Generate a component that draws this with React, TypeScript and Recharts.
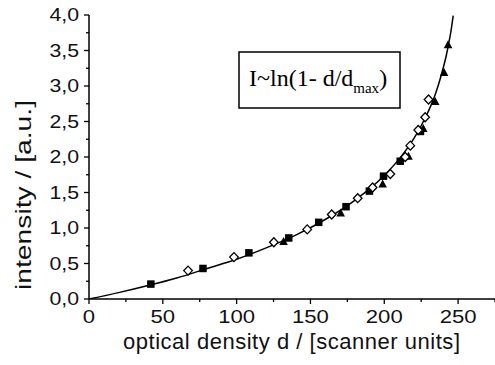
import React from 'react';
import { ComposedChart, Line, Scatter, XAxis, YAxis } from 'recharts';

// fitted curve
const curveD = [0, 20, 40, 60, 80, 100, 120, 140, 160, 180, 200, 210, 220, 225, 230, 235, 238, 240, 242, 243, 244, 245, 246, 246.7];
const curveI = [0, 0.09, 0.19, 0.3, 0.43, 0.56, 0.72, 0.9, 1.12, 1.39, 1.74, 1.97, 2.26, 2.44, 2.65, 2.91, 3.11, 3.26, 3.43, 3.53, 3.64, 3.75, 3.89, 3.99];

// filled squares
const squareD = [41.9, 77.2, 108.3, 135.3, 155.6, 174.1, 189.9, 199.5, 210.8, 224.5];
const squareI = [0.21, 0.43, 0.65, 0.86, 1.08, 1.3, 1.52, 1.73, 1.94, 2.36];

// open diamonds
const diamondD = [67.1, 98.2, 125.2, 147.8, 164.4, 182.0, 192.1, 204.1, 214.2, 217.6, 223.0, 227.7, 230.0];
const diamondI = [0.4, 0.59, 0.8, 0.98, 1.19, 1.42, 1.57, 1.76, 2.0, 2.16, 2.38, 2.56, 2.81];

// filled triangles
const triangleD = [131.8, 170.5, 198.9, 216.4, 226.4, 234.5, 240.5, 243.2];
const triangleI = [0.81, 1.21, 1.62, 2.01, 2.4, 2.78, 3.19, 3.58];

const xTicks = [0, 25, 50, 75, 100, 125, 150, 175, 200, 225, 250, 275];
const yTicks = [0, 0.25, 0.5, 0.75, 1, 1.25, 1.5, 1.75, 2, 2.25, 2.5, 2.75, 3, 3.25, 3.5, 3.75, 4];

const toPts = (d: number[], v: number[]) => d.map((x, k) => ({ d: x, i: v[k] }));
const curve = toPts(curveD, curveI);
const squares = toPts(squareD, squareI);
const diamonds = toPts(diamondD, diamondI);
const triangles = toPts(triangleD, triangleI);

const SANS = '"Liberation Sans", Arial, Helvetica, sans-serif';
const SERIF = '"Liberation Serif", "Times New Roman", serif';

const charW = (s: string) => s.split('').reduce((a, c) => a + (c === ',' ? 5 : 12.3), 0);

function XTick(props: any) {
  const { x, y, payload } = props;
  const v = payload.value as number;
  const major = v % 50 === 0;
  const label = String(v);
  return (
    <g>
      <line x1={x} x2={x} y1={y} y2={y + (major ? 5 : 3)} stroke="#000" strokeWidth={1.3} />
      {major && (
        <text x={x} y={y + 24} textAnchor="middle" fontFamily={SANS} fontSize={18} fill="#111"
          textLength={charW(label)} lengthAdjust="spacingAndGlyphs">{label}</text>
      )}
    </g>
  );
}

function YTick(props: any) {
  const { x, y, payload } = props;
  const v = payload.value as number;
  const major = Math.round(v * 4) % 2 === 0;
  const label = v.toFixed(1).replace('.', ',');
  return (
    <g>
      <line x1={x - (major ? 5 : 3)} x2={x} y1={y} y2={y} stroke="#000" strokeWidth={1.3} />
      {major && (
        <text x={x - 10} y={y + 6} textAnchor="end" fontFamily={SANS} fontSize={18} fill="#111"
          textLength={charW(label)} lengthAdjust="spacingAndGlyphs">{label}</text>
      )}
    </g>
  );
}

const SquareShape = (p: any) => (
  <rect x={p.cx - 3.75} y={p.cy - 3.75} width={7.5} height={7.5} fill="#000" />
);
const DiamondShape = (p: any) => (
  <polygon
    points={`${p.cx},${p.cy - 4.5} ${p.cx + 4.3},${p.cy} ${p.cx},${p.cy + 4.5} ${p.cx - 4.3},${p.cy}`}
    fill="#fff" stroke="#000" strokeWidth={1.3} />
);
const TriangleShape = (p: any) => (
  <polygon
    points={`${p.cx},${p.cy - 4.5} ${p.cx + 4.3},${p.cy + 3.5} ${p.cx - 4.3},${p.cy + 3.5}`}
    fill="#000" />
);

export default function App() {
  return (
    <div style={{ position: 'absolute', left: 0, top: 0, width: 495, height: 365, background: '#fff' }}>
      <ComposedChart width={495} height={365} margin={{ top: 15, right: 0, bottom: 0, left: 0 }}>
        <XAxis type="number" dataKey="d" domain={[0, 275]} ticks={xTicks} interval={0}
          tick={<XTick />} tickLine={false} tickSize={0} tickMargin={0} height={66}
          axisLine={{ stroke: '#000', strokeWidth: 1.5 }} allowDataOverflow />
        <YAxis type="number" dataKey="i" domain={[0, 4]} ticks={yTicks} interval={0}
          tick={<YTick />} tickLine={false} tickSize={0} tickMargin={0} width={89}
          axisLine={{ stroke: '#000', strokeWidth: 1.5 }} allowDataOverflow />
        <Line data={curve} dataKey="i" type="monotone" stroke="#000" strokeWidth={1.5}
          dot={false} activeDot={false} isAnimationActive={false} />
        <Scatter data={squares} dataKey="i" shape={SquareShape} isAnimationActive={false} />
        <Scatter data={triangles} dataKey="i" shape={TriangleShape} isAnimationActive={false} />
        <Scatter data={diamonds} dataKey="i" shape={DiamondShape} isAnimationActive={false} />
      </ComposedChart>
      <svg width={495} height={365} style={{ position: 'absolute', left: 0, top: 0, pointerEvents: 'none' }}>
        <text x={291.5} y={349} textAnchor="middle" fontFamily={SANS} fontSize={22} fill="#111"
          textLength={337} lengthAdjust="spacing">optical density d / [scanner units]</text>
        <text x={0} y={0} transform="translate(31,195) rotate(-90)" textAnchor="middle" fontFamily={SANS}
          fontSize={21.5} fill="#111" textLength={190} lengthAdjust="spacingAndGlyphs">intensity / [a.u.]</text>
        <rect x={239} y={52} width={161} height={56} fill="none" stroke="#000" strokeWidth={1.5} />
        <text x={249} y={86} fontFamily={SERIF} fontSize={24} fill="#000">
          I~ln(1- d/d<tspan fontSize={15} dy={7}>max</tspan><tspan fontSize={24} dy={-7}>)</tspan>
        </text>
      </svg>
    </div>
  );
}
